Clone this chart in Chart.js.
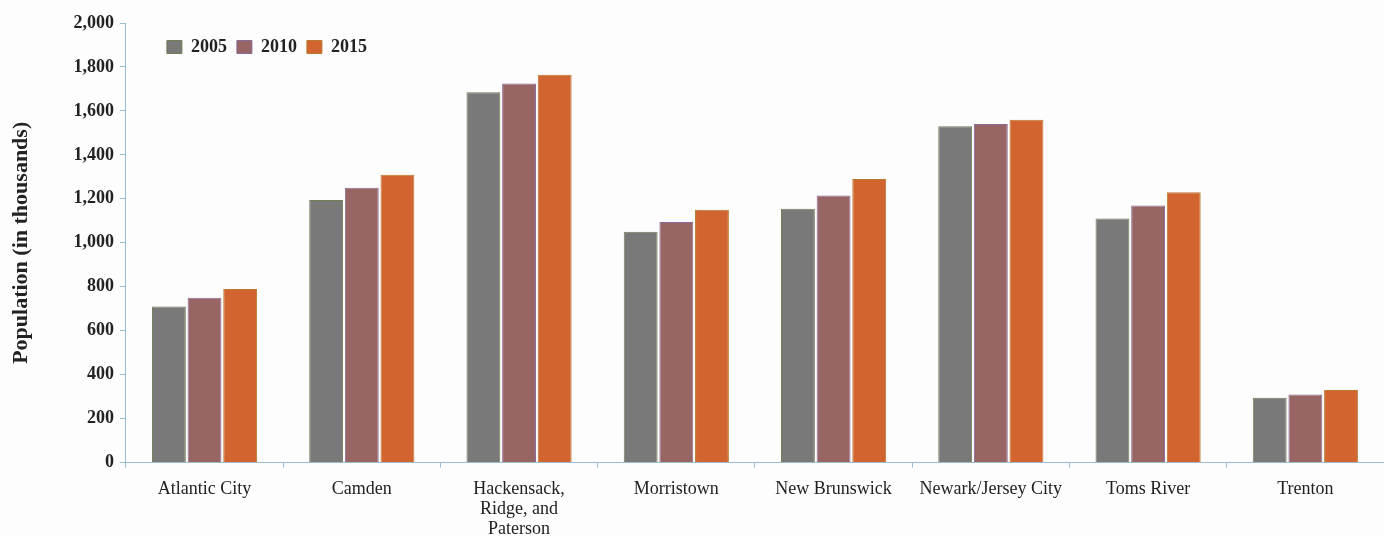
<!DOCTYPE html>
<html>
<head>
<meta charset="utf-8">
<script src="https://cdn.jsdelivr.net/npm/chart.js@4"></script>
<style>
    html, body { margin: 0; padding: 0; background: #fdfdfd; }
    #wrap { width: 1384px; height: 537px; position: relative; }
</style>
</head>
<body>
<div id="wrap"><canvas id="chart"></canvas></div>
<script>
const regions = ['Atlantic City', 'Camden', ['Hackensack,', 'Ridge, and', 'Paterson'], 'Morristown',
    'New Brunswick', 'Newark/Jersey City', 'Toms River', 'Trenton'];
const years = ['2005', '2010', '2015'];
const pop2005 = [710, 1195, 1685, 1050, 1155, 1530, 1110, 295];
const pop2010 = [750, 1250, 1725, 1095, 1215, 1540, 1170, 310];
const pop2015 = [790, 1310, 1765, 1150, 1290, 1560, 1230, 330];
const yTicks = [0, 200, 400, 600, 800, 1000, 1200, 1400, 1600, 1800, 2000];

const axisColor = '#9dbcd0';
const serif = "'Liberation Serif', 'DejaVu Serif', serif";

// legend sits inside the plot, top left, and takes no room of its own
const legendInside = {
    id: 'legendInside',
    afterInit: function (chart) {
        const legend = chart.legend;
        const fit = legend.fit;
        legend.fit = function () {
            fit.call(this);
            this.height = 0;
        };
    },
    afterLayout: function (chart) {
        const legend = chart.legend;
        legend.left = chart.chartArea.left + 31;
        legend.right = chart.chartArea.right;
        legend.top = 28;
        legend.bottom = 64;
    }
};

const ctx = document.getElementById('chart').getContext('2d');
new Chart(ctx, {
    type: 'bar',
    data: {
        labels: regions,
        datasets: [
            { label: years[0], data: pop2005, backgroundColor: '#797979', borderColor: '#6f7d55', borderWidth: 1 },
            { label: years[1], data: pop2010, backgroundColor: '#986565', borderColor: '#8a6a9a', borderWidth: 1 },
            { label: years[2], data: pop2015, backgroundColor: '#d2652f', borderColor: '#b9782e', borderWidth: 1 }
        ]
    },
    options: {
        responsive: true,
        maintainAspectRatio: false,
        animation: false,
        categoryPercentage: 0.68,
        barPercentage: 0.95,
        layout: {
            padding: { top: 23, right: 0, left: 8, bottom: -14 }
        },
        plugins: {
            legend: {
                position: 'top',
                align: 'start',
                labels: {
                    boxWidth: 15,
                    boxHeight: 13,
                    padding: 10,
                    color: '#222',
                    font: { family: serif, size: 18, weight: 'bold' }
                }
            },
            tooltip: { enabled: false }
        },
        scales: {
            x: {
                grid: {
                    offset: true,
                    drawOnChartArea: false,
                    drawTicks: true,
                    tickLength: 5,
                    color: axisColor
                },
                border: { color: axisColor, width: 1 },
                ticks: {
                    color: '#222',
                    padding: 12,
                    maxRotation: 0,
                    autoSkip: false,
                    font: { family: serif, size: 18, lineHeight: 1.1 }
                }
            },
            y: {
                min: 0,
                max: 2000,
                afterBuildTicks: function (axis) {
                    axis.ticks = yTicks.map(v => ({ value: v }));
                },
                grid: {
                    drawOnChartArea: false,
                    drawTicks: true,
                    tickLength: 6,
                    color: axisColor
                },
                border: { color: axisColor, width: 1 },
                ticks: {
                    color: '#222',
                    padding: 6,
                    font: { family: serif, size: 18, weight: 'bold' },
                    callback: function (value) {
                        return value.toLocaleString('en-US');
                    }
                },
                title: {
                    display: true,
                    text: 'Population (in thousands)',
                    color: '#222',
                    padding: { top: 0, bottom: 33 },
                    font: { family: serif, size: 22, weight: 'bold' }
                }
            }
        }
    },
    plugins: [legendInside]
});
</script>
</body>
</html>
